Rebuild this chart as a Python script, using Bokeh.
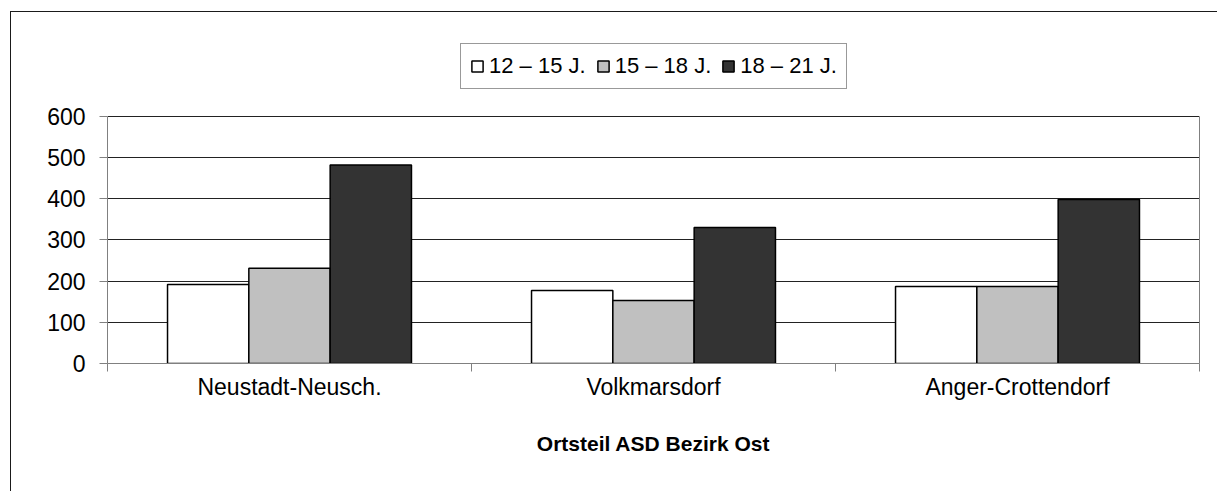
from bokeh.plotting import figure
from bokeh.models import (Range1d, LinearAxis, FixedTicker,
                          Legend, LegendItem, ColumnDataSource)
from bokeh.transform import dodge
from bokeh.embed import file_html
from bokeh.resources import INLINE

# ---- data ----
categories = ["Neustadt-Neusch.", "Volkmarsdorf", "Anger-Crottendorf"]
series_names = ["12 \u2013 15 J.", "15 \u2013 18 J.", "18 \u2013 21 J."]
age_12_15 = [192, 177, 187]
age_15_18 = [231, 153, 187]
age_18_21 = [482, 330, 398]
y_ticks = [0, 100, 200, 300, 400, 500, 600]
x_title = "Ortsteil ASD Bezirk Ost"

FONT = "Liberation Sans"
colors = ["#FFFFFF", "#C0C0C0", "#333333"]

n = len(categories)
centers = [i + 0.5 for i in range(n)]
src = ColumnDataSource(dict(pos=centers, a=age_12_15, b=age_15_18, c=age_18_21))

W, H = 1207, 480
Y_MAX = 600
Y_TOP = 828  # extra room above the plot area for the legend
p = figure(width=W, height=H, x_range=Range1d(0, n),
           y_range=Range1d(0, Y_TOP), x_axis_location=None,
           output_backend="svg", toolbar_location=None,
           min_border_left=96, min_border_top=10, min_border_right=19,
           min_border_bottom=129)
p.styles = {"border-left": "1px solid #1a1a1a", "border-top": "1px solid #1a1a1a"}
p.margin = (11, 0, 0, 10)

p.outline_line_color = None
p.background_fill_color = "white"
p.border_fill_color = "white"
p.xgrid.visible = False
p.ygrid.grid_line_color = "#222222"
p.ygrid.ticker = FixedTicker(ticks=y_ticks[1:])
p.ygrid.bounds = (0, Y_MAX)

# y axis
ya = p.yaxis[0]
ya.ticker = FixedTicker(ticks=y_ticks)
ya.bounds = (0, Y_MAX)
ya.axis_line_color = "#808080"
ya.major_tick_line_color = "#808080"
ya.major_tick_out = 8
ya.major_tick_in = 0
ya.minor_tick_line_color = None
ya.major_label_text_font = FONT
ya.major_label_text_font_size = "23px"
ya.major_label_text_color = "black"
ya.major_label_standoff = 14

# right edge of plot area
ra = LinearAxis(ticker=FixedTicker(ticks=[]), bounds=(0, Y_MAX))
ra.axis_line_color = "#808080"
ra.major_tick_line_color = None
ra.minor_tick_line_color = None
ra.major_tick_out = 0
ra.major_label_text_font_size = "1px"
ra.major_label_standoff = 0
p.add_layout(ra, "right")

# tick marks between categories
ea = LinearAxis(ticker=FixedTicker(ticks=list(range(n + 1))),
                major_label_overrides={i: "" for i in range(n + 1)})
ea.axis_line_color = "#808080"
ea.major_tick_line_color = "#808080"
ea.major_tick_out = 8
ea.major_tick_in = 0
ea.minor_tick_line_color = None
ea.major_label_text_font_size = "1px"
ea.major_label_standoff = 0
p.add_layout(ea, "below")

# category labels
ca = LinearAxis(ticker=FixedTicker(ticks=centers),
                major_label_overrides={c: lab for c, lab in zip(centers, categories)})
ca.axis_line_color = None
ca.major_tick_line_color = None
ca.minor_tick_line_color = None
ca.major_tick_out = 0
ca.major_tick_in = 0
ca.major_label_text_font = FONT
ca.major_label_text_font_size = "23px"
ca.major_label_text_color = "black"
ca.major_label_standoff = 2
ca.axis_label = x_title
ca.axis_label_text_font = FONT
ca.axis_label_text_font_style = "bold"
ca.axis_label_text_font_size = "21px"
ca.axis_label_text_color = "black"
ca.axis_label_standoff = 29
p.add_layout(ca, "below")

bw = 0.2234
r1 = p.vbar(x=dodge("pos", -bw), top="a", width=bw, source=src,
            fill_color=colors[0], line_color="black", line_width=1.5)
r2 = p.vbar(x=dodge("pos", 0), top="b", width=bw, source=src,
            fill_color=colors[1], line_color="black", line_width=1.5)
r3 = p.vbar(x=dodge("pos", bw), top="c", width=bw, source=src,
            fill_color=colors[2], line_color="black", line_width=1.5)

legend = Legend(items=[LegendItem(label=series_names[0], renderers=[r1]),
                       LegendItem(label=series_names[1], renderers=[r2]),
                       LegendItem(label=series_names[2], renderers=[r3])],
                orientation="horizontal", location=(353, 274))
legend.border_line_color = "#333333"
legend.border_line_width = 1
legend.background_fill_alpha = 1
legend.label_text_font = FONT
legend.label_text_font_size = "22px"
legend.label_text_color = "black"
legend.glyph_width = 14
legend.glyph_height = 14
legend.label_standoff = 5
legend.spacing = 10
legend.padding = 9
legend.margin = 0
p.add_layout(legend, "center")

open("out.html", "w").write(file_html(p, INLINE))
